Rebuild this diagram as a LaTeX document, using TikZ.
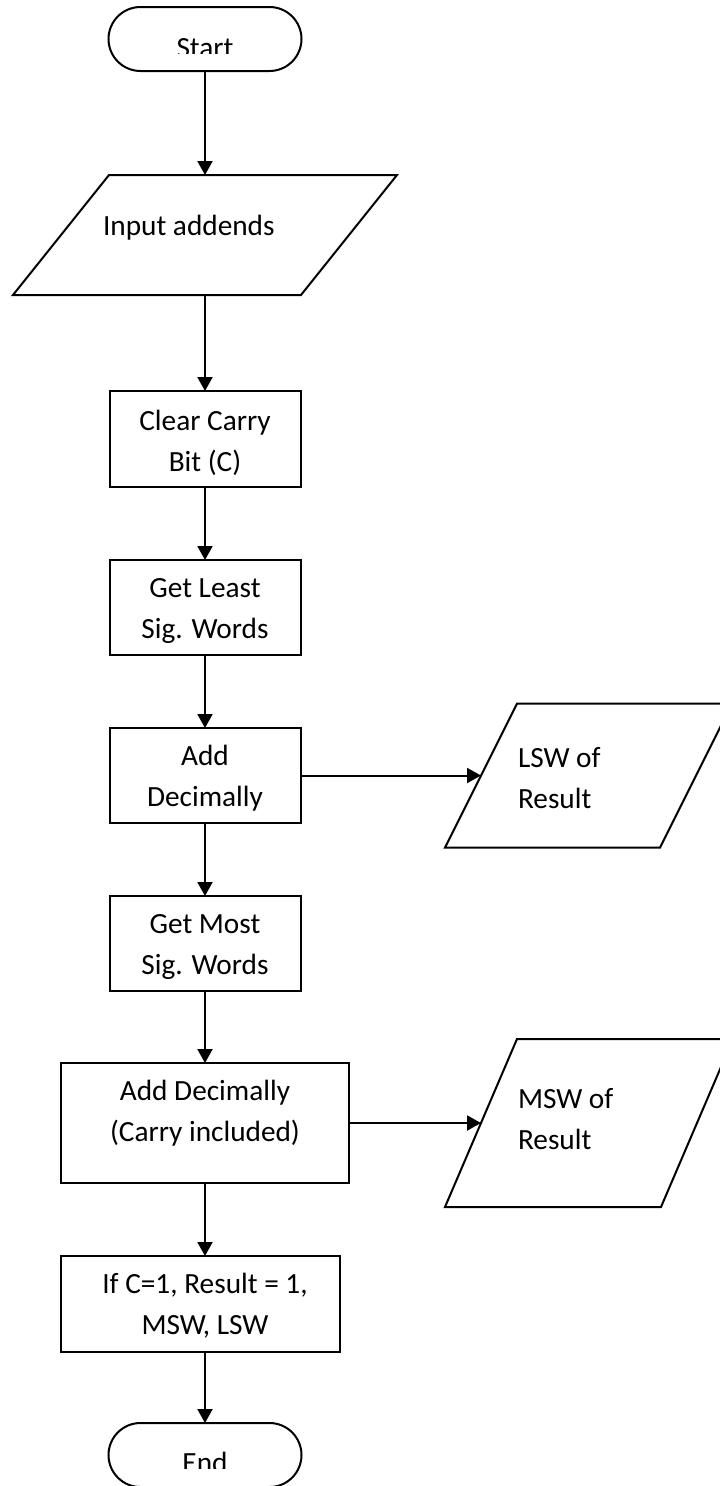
\documentclass[tikz,border=0pt]{standalone}
\usepackage{fontspec}
\setmainfont{Carlito}
\usetikzlibrary{arrows.meta,shapes.misc}
\tikzset{
  base/.style={draw, line width=2pt, inner sep=0pt, outer sep=0pt},
  procbox/.style={base, rectangle, align=center},
  termbox/.style={base, rounded rectangle, minimum width=193pt, minimum height=64pt},
  iobox/.style={line width=2pt, line join=miter},
  txt/.style={inner sep=0pt, outer sep=0pt},
  flow/.style={line width=2pt, -{Triangle[length=14pt,width=15pt]}}
}
\begin{document}
\begin{tikzpicture}[x=1pt,y=-1pt,font=\fontsize{29.3}{40.5}\selectfont]
\clip (0,0) rectangle (720,1486);

% terminals
\node[termbox] (start) at (205,39) {};
\begin{scope}
  \clip (0,0) rectangle (720,53);
  \node[txt, anchor=base] (starttxt) at (205,57) {Start};
\end{scope}
\node[termbox] (stop) at (205,1455) {};
\begin{scope}
  \clip (0,1400) rectangle (720,1468);
  \node[txt, anchor=base] (stoptxt) at (205,1472) {End};
\end{scope}

% input parallelogram
\draw[iobox] (109,175) -- (397,175) -- (301,295) -- (13,295) -- cycle;
\coordinate (inputtop) at (205,175);
\coordinate (inputbot) at (205,295);
\node[txt, anchor=base west] (inputtxt) at (103,235) {Input addends};

% process steps (text baselines of the last line are set explicitly)
\node[procbox, minimum width=191pt, minimum height=96pt] (clear) at (205,439) {};
\node[txt, anchor=base, align=center] (cleartxt) at (205,471) {Clear Carry\\Bit (C)};
\node[procbox, minimum width=191pt, minimum height=95pt] (least) at (205,607.5) {};
\node[txt, anchor=base, align=center] (leasttxt) at (205,638) {Get Least\\Sig. Words};
\node[procbox, minimum width=191pt, minimum height=95pt] (add) at (205,775.5) {};
\node[txt, anchor=base, align=center] (addtxt) at (205,806) {Add\\Decimally};
\node[procbox, minimum width=191pt, minimum height=95pt] (most) at (205,943.5) {};
\node[txt, anchor=base, align=center] (mosttxt) at (205,974) {Get Most\\Sig. Words};
\node[procbox, minimum width=288pt, minimum height=120pt] (addc) at (205,1123) {};
\node[txt, anchor=base, align=center] (addctxt) at (205,1141) {Add Decimally\\(Carry included)};
\node[procbox, minimum width=279pt, minimum height=96pt] (ifc) at (200.5,1304) {};
\node[txt, anchor=base, align=center] (ifctxt) at (205,1334) {If C=1, Result = 1,\\MSW, LSW};

% output parallelograms
\draw[iobox] (517,703.5) -- (732,703.5) -- (660,847.5) -- (445,847.5) -- cycle;
\coordinate (lswin) at (481,775.5);
\node[txt, anchor=base west, align=left] (lswtxt) at (518,808) {LSW of\\Result};
\draw[iobox] (517,1039) -- (733,1039) -- (661,1207) -- (445,1207) -- cycle;
\coordinate (mswin) at (481,1123);
\node[txt, anchor=base west, align=left] (mswtxt) at (518,1149) {MSW of\\Result};

% connectors
\draw[flow] (start) -- (inputtop);
\draw[flow] (inputbot) -- (clear);
\draw[flow] (clear) -- (least);
\draw[flow] (least) -- (add);
\draw[flow] (add) -- (most);
\draw[flow] (most) -- (addc);
\draw[flow] (addc) -- (addc |- ifc.north);
\draw[flow] (stop |- ifc.south) -- (stop);
\draw[flow] (add) -- (lswin);
\draw[flow] (addc) -- (mswin);
\end{tikzpicture}
\end{document}
